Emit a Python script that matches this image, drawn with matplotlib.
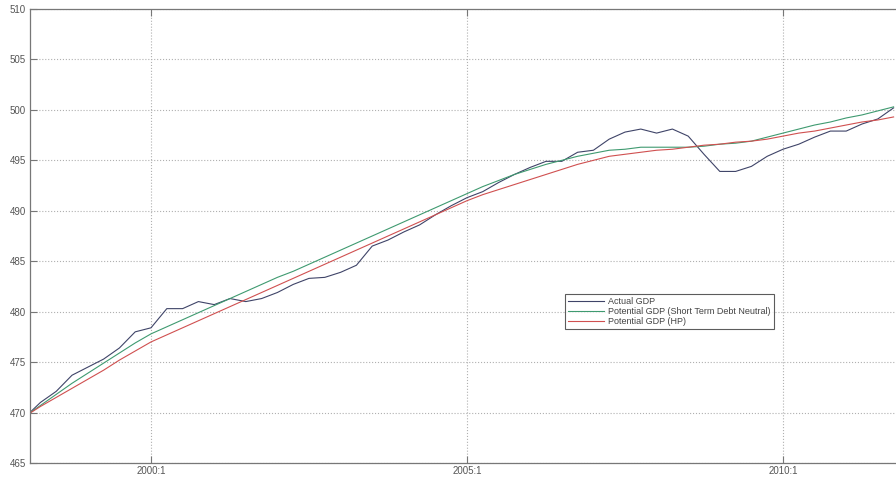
import matplotlib
matplotlib.use("Agg")
import matplotlib.pyplot as plt
import numpy as np

# quarters 1998:1 .. 2011:4 as decimal years
years = np.arange(1998.0, 2012.0, 0.25)

actual_gdp = [469.5, 471.0, 472.1, 473.7, 474.5, 475.3, 476.4, 478.0,
              478.4, 480.3, 480.3, 481.0, 480.7, 481.3, 481.0, 481.3,
              481.9, 482.7, 483.3, 483.4, 483.9, 484.6, 486.5, 487.1,
              487.9, 488.6, 489.6, 490.5, 491.3, 491.9, 492.8, 493.6,
              494.3, 494.9, 494.9, 495.8, 496.0, 497.1, 497.8, 498.1,
              497.7, 498.1, 497.4, 495.6, 493.9, 493.9, 494.4, 495.4,
              496.1, 496.6, 497.3, 497.9, 497.9, 498.6, 499.1, 500.2]

potential_stdn = [469.6, 470.7, 471.8, 472.9, 473.9, 474.9, 475.9, 476.9,
                  477.8, 478.5, 479.2, 479.9, 480.6, 481.3, 482.0, 482.7,
                  483.4, 484.0, 484.7, 485.4, 486.1, 486.8, 487.5, 488.2,
                  488.9, 489.6, 490.3, 491.0, 491.7, 492.4, 493.0, 493.6,
                  494.1, 494.6, 495.0, 495.4, 495.7, 496.0, 496.1, 496.3,
                  496.3, 496.3, 496.3, 496.4, 496.6, 496.7, 496.9, 497.3,
                  497.7, 498.1, 498.5, 498.8, 499.2, 499.5, 499.9, 500.3]

potential_hp = [469.6, 470.6, 471.5, 472.4, 473.3, 474.2, 475.2, 476.1,
                477.0, 477.7, 478.4, 479.1, 479.8, 480.5, 481.2, 481.9,
                482.6, 483.3, 484.0, 484.7, 485.4, 486.1, 486.8, 487.5,
                488.2, 488.9, 489.6, 490.3, 491.0, 491.6, 492.1, 492.6,
                493.1, 493.6, 494.1, 494.6, 495.0, 495.4, 495.6, 495.8,
                496.0, 496.1, 496.3, 496.5, 496.6, 496.8, 496.9, 497.1,
                497.4, 497.7, 497.9, 498.2, 498.5, 498.8, 499.0, 499.3]

xtick_pos = [2000, 2005, 2010]
xtick_labels = ["2000:1", "2005:1", "2010:1"]
ytick_vals = np.arange(465, 511, 5)

plt.rcParams['font.family'] = ['Liberation Sans', 'DejaVu Sans']

fig = plt.figure(figsize=(8.96, 4.79), dpi=100, facecolor='white')
# axes runs past the right edge of the picture, like the cropped original
ax = fig.add_axes([30 / 896, 16 / 479, 879.4 / 896, 454 / 479])

ax.plot(years, actual_gdp, color='#3f4468', lw=0.8, label='Actual GDP')
ax.plot(years, potential_stdn, color='#3f9a70', lw=0.8,
        label='Potential GDP (Short Term Debt Neutral)')
ax.plot(years, potential_hp, color='#d05050', lw=0.8, label='Potential GDP (HP)')

ax.set_xlim(1998.0854, 2012.0)
ax.set_ylim(465, 510)
ax.set_xticks(xtick_pos)
ax.set_xticklabels(xtick_labels)
ax.set_yticks(ytick_vals)

ax.grid(True, linestyle=':', color='#b0b0b0', linewidth=0.8)
ax.tick_params(direction='in', length=5, width=0.8, colors='#777777',
               labelcolor='#555555', labelsize=7, top=True, right=True)
ax.tick_params(axis='x', pad=2)
ax.tick_params(axis='y', pad=3)
for s in ax.spines.values():
    s.set_color('#777777')
    s.set_linewidth(0.9)

leg = ax.legend(loc='upper left', bbox_to_anchor=(565 / 896, 1 - 294 / 479),
                bbox_transform=fig.transFigure, fontsize=6.5, frameon=True,
                fancybox=False, borderpad=0.3, handlelength=4.0,
                handletextpad=0.5, labelspacing=0.15, borderaxespad=0)
leg.get_frame().set_edgecolor('#333333')
leg.get_frame().set_linewidth(0.8)
for t in leg.get_texts():
    t.set_color('#444444')

fig.savefig('out.png', dpi=100)
